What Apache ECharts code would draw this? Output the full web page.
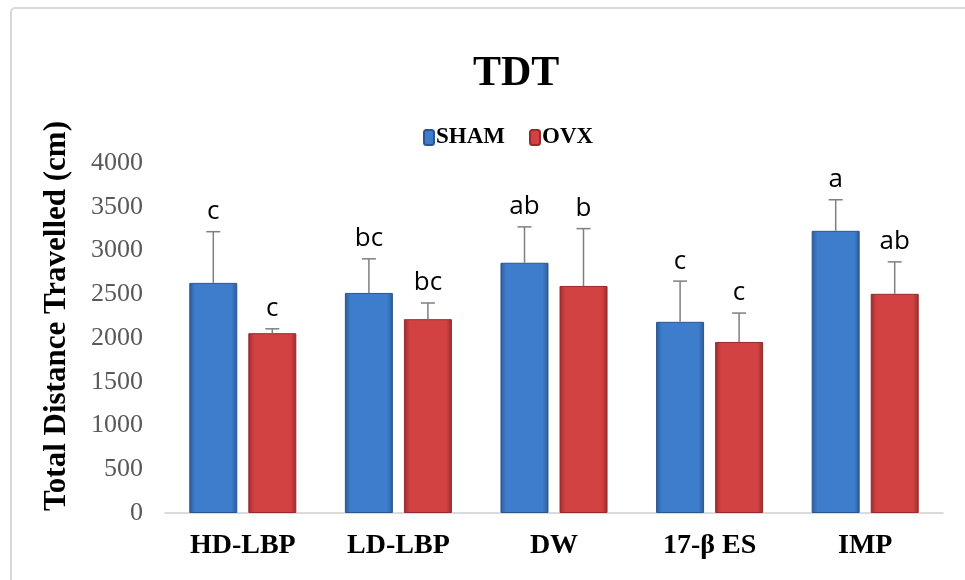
<!DOCTYPE html>
<html><head><meta charset="utf-8">
<script src="https://cdn.jsdelivr.net/npm/echarts@6/dist/echarts.min.js"></script>
<style>html,body{margin:0;padding:0;background:#fff}#c{width:965px;height:580px}</style>
</head><body><div id="c"></div>
<script>
const categories = ['HD-LBP', 'LD-LBP', 'DW', '17-β ES', 'IMP'];
const shamMean = [2630, 2515, 2860, 2185, 3225];
const shamSD   = [585, 390, 410, 465, 355];
const ovxMean  = [2055, 2215, 2595, 1955, 2505];
const ovxSD    = [50, 185, 655, 330, 365];
const shamSig  = ['c', 'bc', 'ab', 'c', 'a'];
const ovxSig   = ['c', 'bc', 'b', 'c', 'ab'];
const yTicks   = [0, 500, 1000, 1500, 2000, 2500, 3000, 3500, 4000];
const yTitle   = 'Total Distance Travelled (cm)';

const BAR_W = 48, OFFSET = 29.5;
const serif = '"Liberation Serif","Times New Roman",serif';

function grad(edge, mid) {
  return new echarts.graphic.LinearGradient(0, 0, 1, 0, [
    {offset: 0, color: edge}, {offset: 0.12, color: mid}, {offset: 0.88, color: mid}, {offset: 1, color: edge}
  ]);
}

function errSeries(name, means, sds, sigs, dir) {
  return {
    type: 'custom', name: name + '_err', silent: true, z: 5,
    data: means.map((m, i) => [i, m, m + sds[i]]),
    renderItem: function (params, api) {
      const c0 = api.coord([api.value(0), api.value(1)]);
      const c1 = api.coord([api.value(0), api.value(2)]);
      const x = c0[0] + dir * OFFSET;
      const st = {stroke: '#7f7f7f', lineWidth: 1.5};
      return {type: 'group', children: [
        {type: 'line', shape: {x1: x, y1: c0[1], x2: x, y2: c1[1]}, style: st},
        {type: 'line', shape: {x1: x - 7, y1: c1[1], x2: x + 7, y2: c1[1]}, style: st},
        {type: 'text', style: {text: sigs[params.dataIndex], x: x, y: c1[1] - 7,
          textAlign: 'center', textVerticalAlign: 'bottom',
          font: '26px "Open Sans", sans-serif', fill: '#000'}}
      ]};
    }
  };
}

const chart = echarts.init(document.getElementById('c'));
chart.setOption({
  animation: false,
  backgroundColor: '#fff',
  graphic: [
    {type: 'rect', shape: {x: 11, y: 8, width: 1000, height: 620, r: 4},
      style: {fill: 'none', stroke: '#d9d9d9', lineWidth: 2}, z: -10},
    {type: 'text', x: 57, y: 316, rotation: Math.PI / 2,
      style: {text: yTitle, textAlign: 'center', textVerticalAlign: 'middle',
        font: 'bold 31px ' + serif, fill: '#000'}}
  ],
  title: {text: 'TDT', left: 468, top: 48,
    textStyle: {fontFamily: serif, fontWeight: 'bold', fontSize: 42, color: '#000'}},
  legend: {top: 121, left: 418, itemGap: 24, itemWidth: 10, itemHeight: 15,
    data: ['SHAM', 'OVX'],
    textStyle: {fontFamily: serif, fontWeight: 'bold', fontSize: 23, color: '#000', padding: [0, 0, 0, -3]}},
  grid: {left: 165, right: 22, top: 163, bottom: 67},
  xAxis: {type: 'category', data: categories,
    axisLine: {lineStyle: {color: '#d0d0d0', width: 1.5}}, axisTick: {show: false},
    axisLabel: {fontFamily: serif, fontWeight: 'bold', fontSize: 28, color: '#000', margin: 19}},
  yAxis: {type: 'value', min: 0, max: 4000, interval: 500,
    axisLine: {show: false}, axisTick: {show: false}, splitLine: {show: false},
    axisLabel: {fontFamily: serif, fontSize: 26, color: '#595959', margin: 22,
      formatter: v => yTicks.includes(v) ? String(v) : ''}},
  series: [
    {name: 'SHAM', type: 'bar', data: shamMean, barWidth: BAR_W, barGap: '23%',
      itemStyle: {color: grad('#2c5b97', '#3e7dcc'), borderColor: '#2a5590', borderWidth: 1}},
    {name: 'OVX', type: 'bar', data: ovxMean, barWidth: BAR_W,
      itemStyle: {color: grad('#9c2c2c', '#d24242'), borderColor: '#972a2a', borderWidth: 1}},
    errSeries('SHAM', shamMean, shamSD, shamSig, -1),
    errSeries('OVX', ovxMean, ovxSD, ovxSig, 1)
  ]
});
</script></body></html>
